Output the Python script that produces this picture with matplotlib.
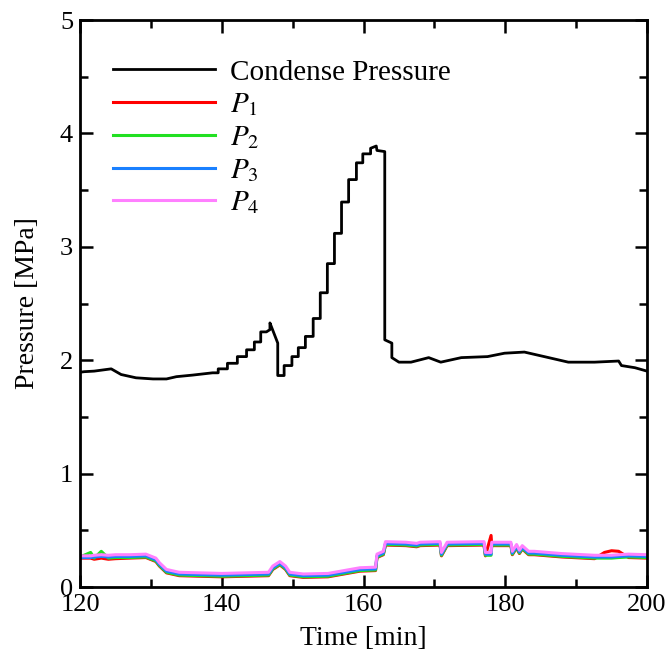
import matplotlib
matplotlib.use("Agg")
import matplotlib.pyplot as plt
import numpy as np

plt.rcParams['font.family'] = ['Liberation Serif', 'DejaVu Serif']
plt.rcParams['mathtext.fontset'] = 'stix'

# condense pressure (black curve), stair-steps written out where the logger stepped
t_cond = [120, 120.6, 122, 124.4, 125.8, 127.9, 130.3, 132.2, 133.6, 135.9, 138.7,
          139.5, 139.5, 140.8, 140.8, 142.2, 142.2, 143.5, 143.5, 144.6, 144.6, 145.5, 145.5,
          146.3, 146.8, 146.8, 147.9, 147.9, 148.8, 148.8,
          149.9, 149.9, 150.8, 150.8, 151.8, 151.8, 152.9, 152.9, 153.9, 153.9,
          154.9, 154.9, 155.9, 155.9, 156.9, 156.9, 157.9, 157.9, 159.0, 159.0,
          159.9, 159.9, 161.0, 161.0, 161.8, 161.9, 163.0, 163.0, 164.0, 164.0,
          165.0, 166.7, 169.2, 170.9, 173.8, 177.5, 179.9, 182.7, 185.5, 188.9,
          192.6, 196.0, 196.4, 198.3, 200]
p_cond = [1.894, 1.899, 1.904, 1.924, 1.874, 1.845, 1.835, 1.835, 1.855, 1.869, 1.889,
          1.889, 1.924, 1.924, 1.973, 1.973, 2.032, 2.032, 2.092, 2.092, 2.161, 2.161, 2.25,
          2.25, 2.27, 2.329, 2.151, 1.865, 1.865, 1.953,
          1.953, 2.032, 2.032, 2.111, 2.111, 2.21, 2.21, 2.368, 2.368, 2.595,
          2.595, 2.852, 2.852, 3.119, 3.119, 3.395, 3.395, 3.593, 3.593, 3.741,
          3.741, 3.82, 3.82, 3.869, 3.889, 3.85, 3.84, 2.18, 2.151, 2.023,
          1.983, 1.983, 2.023, 1.983, 2.023, 2.032, 2.062, 2.072, 2.032, 1.983,
          1.983, 1.993, 1.953, 1.934, 1.904]

# channel pressures P1..P4
t_p = [120, 121.5, 122, 123, 124, 125, 127, 129.3, 130.7, 131.2, 132.2, 134, 140, 146.6,
       147.2, 148.2, 149, 149.6, 151.5, 155, 159.5, 161.7, 161.9, 162.8, 163.1, 166,
       167.5, 168, 170.8, 171.0, 171.8, 177.0, 177.2, 178.0, 178.1, 180.8, 181.0, 181.6,
       182.0, 182.4, 183.3, 184.1, 188, 192.6, 194, 195, 196, 197.4, 200]
p4 = [0.275, 0.275, 0.28, 0.285, 0.28, 0.285, 0.285, 0.29, 0.255, 0.215, 0.155, 0.13, 0.12, 0.13,
      0.185, 0.225, 0.185, 0.13, 0.115, 0.12, 0.17, 0.175, 0.29, 0.315, 0.40, 0.395,
      0.385, 0.395, 0.40, 0.305, 0.395, 0.40, 0.305, 0.305, 0.395, 0.395, 0.315, 0.375,
      0.325, 0.365, 0.315, 0.315, 0.295, 0.28, 0.28, 0.28, 0.285, 0.29, 0.285]
p3 = [0.26, 0.26, 0.265, 0.27, 0.265, 0.27, 0.27, 0.275, 0.24, 0.20, 0.14, 0.115, 0.105, 0.115,
      0.17, 0.21, 0.17, 0.115, 0.10, 0.105, 0.155, 0.16, 0.275, 0.30, 0.385, 0.38,
      0.37, 0.38, 0.385, 0.29, 0.38, 0.385, 0.29, 0.29, 0.38, 0.38, 0.30, 0.36,
      0.31, 0.35, 0.30, 0.30, 0.28, 0.265, 0.265, 0.265, 0.27, 0.275, 0.27]
p2 = [0.265, 0.305, 0.255, 0.315, 0.255, 0.26, 0.26, 0.265, 0.23, 0.19, 0.13, 0.105, 0.095, 0.105,
      0.16, 0.20, 0.16, 0.105, 0.09, 0.095, 0.145, 0.15, 0.265, 0.29, 0.375, 0.37,
      0.36, 0.37, 0.375, 0.28, 0.37, 0.375, 0.28, 0.28, 0.37, 0.37, 0.29, 0.35,
      0.30, 0.34, 0.29, 0.29, 0.27, 0.255, 0.255, 0.255, 0.26, 0.265, 0.26]
p1 = [0.255, 0.255, 0.245, 0.255, 0.245, 0.25, 0.255, 0.26, 0.225, 0.185, 0.125, 0.10, 0.09, 0.10,
      0.155, 0.195, 0.155, 0.10, 0.085, 0.09, 0.14, 0.145, 0.26, 0.285, 0.37, 0.365,
      0.355, 0.365, 0.37, 0.275, 0.365, 0.37, 0.275, 0.455, 0.365, 0.365, 0.285, 0.345,
      0.295, 0.335, 0.285, 0.285, 0.265, 0.25, 0.305, 0.32, 0.315, 0.26, 0.255]

fig = plt.figure(figsize=(6.69, 6.57), dpi=100)
ax = fig.add_axes([0.1196, 0.1065, 0.8475, 0.863])

ax.plot(t_cond, p_cond, color='black', lw=2.0, label='Condense Pressure')
ax.plot(t_p, p1, color='#ff0000', lw=2.2, label='$P_1$')
ax.plot(t_p, p2, color='#22e022', lw=2.2, label='$P_2$')
ax.plot(t_p, p3, color='#1a80ff', lw=2.2, label='$P_3$')
ax.plot(t_p, p4, color='#ff80ff', lw=2.2, label='$P_4$')

ax.set_xlim(120, 200)
ax.set_ylim(0, 5)
ax.set_xticks([120, 140, 160, 180, 200])
ax.set_xticks([130, 150, 170, 190], minor=True)
ax.set_yticks([0, 1, 2, 3, 4, 5])
ax.set_yticks(np.arange(0.5, 5, 1.0), minor=True)
ax.tick_params(which='both', direction='in', top=True, right=True, width=1.8, labelsize=19)
ax.tick_params(which='major', length=9, pad=5)
ax.tick_params(which='minor', length=5.5)
for s in ax.spines.values():
    s.set_linewidth(2.0)

ax.set_xlabel('Time [min]', fontsize=20, labelpad=7)
ax.set_ylabel('Pressure [MPa]', fontsize=20, labelpad=14)

ax.legend(loc='upper left', bbox_to_anchor=(0.058, 0.931), frameon=False, fontsize=21,
          handlelength=3.5, handletextpad=0.5, labelspacing=0.2,
          borderpad=0, borderaxespad=0)

plt.savefig('out.png', dpi=100)
